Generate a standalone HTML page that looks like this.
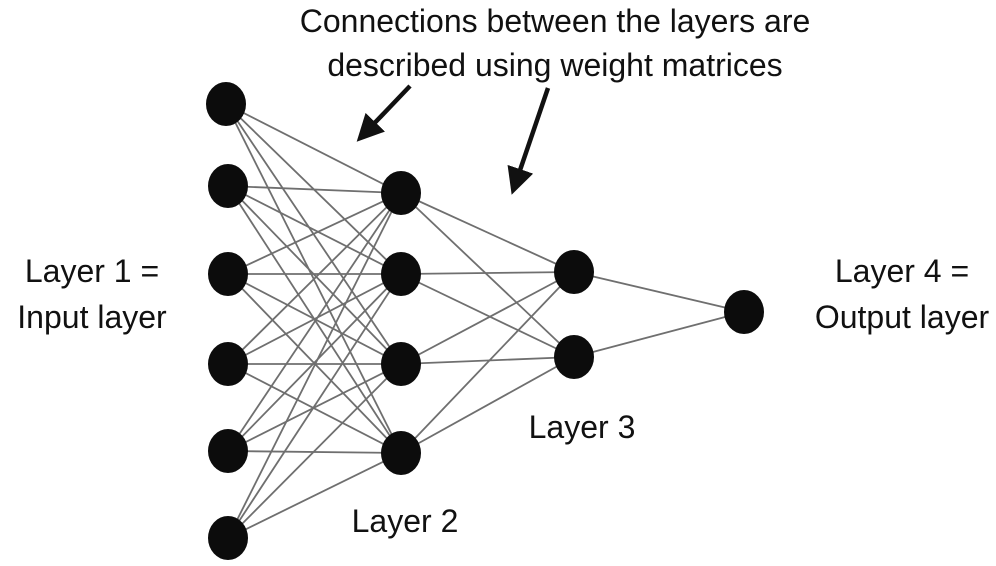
<!DOCTYPE html>
<html><head><style>
body{margin:0;background:#fff;}
svg{display:block;}
text{font-family:"Liberation Sans",sans-serif;font-size:32px;fill:#111;}
</style></head><body>
<svg width="996" height="566" viewBox="0 0 996 566">
<defs><marker id="ah" markerWidth="6" markerHeight="6" refX="3" refY="3" orient="auto" markerUnits="strokeWidth"><path d="M0,0 L6,3 L0,6 Z" fill="#111"/></marker></defs>
<g stroke="#6f6f6f" stroke-width="1.8" id="lines"></g>
<g id="nodes" fill="#0c0c0c"></g>
<text x="555" y="32" text-anchor="middle">Connections between the layers are</text>
<text x="555" y="76" text-anchor="middle">described using weight matrices</text>
<text x="92" y="282" text-anchor="middle">Layer 1 =</text>
<text x="92" y="328" text-anchor="middle">Input layer</text>
<text x="902" y="282" text-anchor="middle">Layer 4 =</text>
<text x="902" y="328" text-anchor="middle">Output layer</text>
<text x="582" y="438" text-anchor="middle">Layer 3</text>
<text x="405" y="532" text-anchor="middle">Layer 2</text>
<line x1="410" y1="86" x2="366" y2="132" stroke="#111" stroke-width="4.5" marker-end="url(#ah)"/>
<line x1="548" y1="88" x2="516" y2="182" stroke="#111" stroke-width="4.5" marker-end="url(#ah)"/>
</svg>
<script>
var L=[[[226,104],[228,186],[228,274],[228,364],[228,451],[228,538]],[[401,193],[401,274],[401,364],[401,453]],[[574,272],[574,357]],[[744,312]]];
var g=document.getElementById('lines'),n=document.getElementById('nodes'),ns='http://www.w3.org/2000/svg';
for(var i=0;i<3;i++)for(var a of L[i])for(var b of L[i+1]){var l=document.createElementNS(ns,'line');l.setAttribute('x1',a[0]);l.setAttribute('y1',a[1]);l.setAttribute('x2',b[0]);l.setAttribute('y2',b[1]);g.appendChild(l);}
for(var ly of L)for(var p of ly){var e=document.createElementNS(ns,'ellipse');e.setAttribute('cx',p[0]);e.setAttribute('cy',p[1]);e.setAttribute('rx',20);e.setAttribute('ry',22);n.appendChild(e);}
</script>
</body></html>
